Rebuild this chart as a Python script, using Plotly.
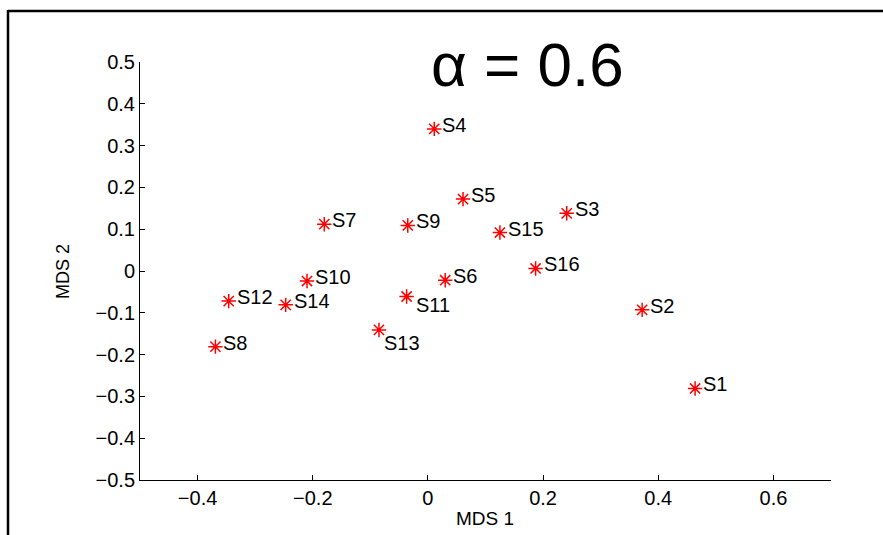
import plotly.graph_objects as go

# ---- data ----
labels = ["S1", "S2", "S3", "S4", "S5", "S6", "S7", "S8",
          "S9", "S10", "S11", "S12", "S13", "S14", "S15", "S16"]
mds1 = [0.464, 0.372, 0.241, 0.011, 0.061, 0.030, -0.180, -0.369,
        -0.035, -0.210, -0.037, -0.346, -0.085, -0.247, 0.125, 0.187]
mds2 = [-0.281, -0.093, 0.138, 0.340, 0.172, -0.022, 0.112, -0.181,
        0.109, -0.024, -0.061, -0.072, -0.141, -0.081, 0.092, 0.006]
x_ticks = [-0.4, -0.2, 0, 0.2, 0.4, 0.6]
y_ticks = [-0.5, -0.4, -0.3, -0.2, -0.1, 0, 0.1, 0.2, 0.3, 0.4, 0.5]
title_text = "α = 0.6"

# ---- styling ----
FONT = "Liberation Sans, Arial, Helvetica, sans-serif"
W, H = 883, 535
ML, MR, MT, MB = 140, 52, 62, 55
label_shift = {"S11": (7, -8), "S13": (3, -13)}
default_shift = (6, 4)

fig = go.Figure()
fig.add_trace(go.Scatter(
    x=mds1, y=mds2, mode="markers",
    marker=dict(symbol="asterisk-open", size=12, color="red",
                line=dict(color="red", width=1.5)),
    hoverinfo="text", text=labels, showlegend=False,
))

annotations = []
for name, xv, yv in zip(labels, mds1, mds2):
    dx, dy = label_shift.get(name, default_shift)
    annotations.append(dict(
        x=xv, y=yv, xref="x", yref="y", text=name, showarrow=False,
        xanchor="left", yanchor="middle", xshift=dx, yshift=dy,
        font=dict(family=FONT, size=20, color="black"),
    ))

pw = W - ML - MR
ph = H - MT - MB


def px_x(p):
    return (p - ML) / pw


def px_y(p):
    return (H - MB - p) / ph


annotations.append(dict(
    x=px_x(527), y=px_y(64), xref="paper", yref="paper", text=title_text,
    showarrow=False, xanchor="center", yanchor="middle",
    font=dict(family=FONT, size=62, color="black"),
))
annotations.append(dict(
    x=px_x(485), y=px_y(518), xref="paper", yref="paper", text="MDS 1",
    showarrow=False, xanchor="center", yanchor="middle",
    font=dict(family=FONT, size=19, color="black"),
))
annotations.append(dict(
    x=px_x(63), y=px_y(272), xref="paper", yref="paper", text="MDS 2",
    showarrow=False, xanchor="center", yanchor="middle", textangle=-90,
    font=dict(family=FONT, size=18, color="black"),
))

shapes = [
    dict(type="line", xref="paper", yref="paper",
         x0=px_x(8), y0=px_y(11), x1=px_x(W + 5), y1=px_y(11),
         line=dict(color="black", width=2.5)),
    dict(type="line", xref="paper", yref="paper",
         x0=px_x(8), y0=px_y(10), x1=px_x(8), y1=px_y(H + 5),
         line=dict(color="black", width=2.5)),
]

axis_common = dict(
    showgrid=False, zeroline=False, showline=True, linecolor="black",
    linewidth=1, ticks="inside", ticklen=5, tickwidth=1, tickcolor="black",
    tickfont=dict(family=FONT, size=20, color="black"), mirror=False,
)

fig.update_layout(
    width=W, height=H,
    margin=dict(l=ML, r=MR, t=MT, b=MB),
    paper_bgcolor="white", plot_bgcolor="white",
    xaxis=dict(range=[-0.5, 0.7], tickvals=x_ticks,
               ticktext=[("−" if v < 0 else "") + (f"{abs(v):g}") for v in x_ticks],
               **axis_common),
    yaxis=dict(range=[-0.5, 0.5], tickvals=y_ticks,
               ticktext=[("−" if v < 0 else "") + (f"{abs(v):g}") for v in y_ticks],
               **axis_common),
    annotations=annotations, shapes=shapes,
)

fig.write_html("out.html")
